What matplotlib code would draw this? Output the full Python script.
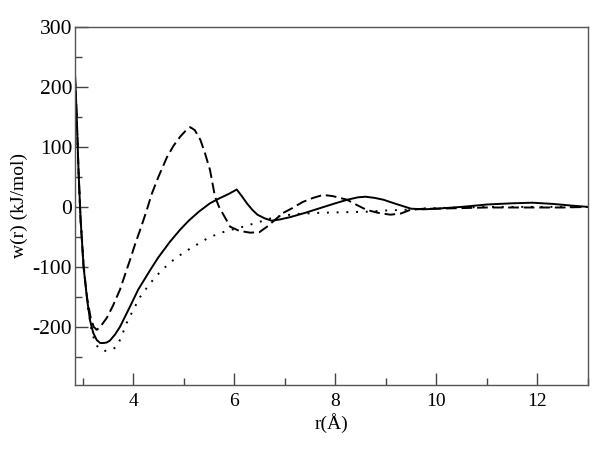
import matplotlib
matplotlib.use("Agg")
import matplotlib.pyplot as plt
from matplotlib.ticker import MultipleLocator

# Solid curve
r_solid = [2.85, 2.88, 2.92, 2.96, 3.02, 3.09, 3.15, 3.21, 3.28, 3.35, 3.42, 3.48, 3.54,
           3.64, 3.74, 3.84, 3.94, 4.10, 4.34, 4.50, 4.73, 4.93, 5.10, 5.30, 5.52, 5.70,
           5.90, 6.05, 6.15, 6.26, 6.36, 6.46, 6.60, 6.74, 6.90, 7.11, 7.40, 7.70, 8.00,
           8.24, 8.45, 8.60, 8.78, 8.95, 9.20, 9.50, 9.75, 10.0, 10.5, 11.0, 11.5, 11.9,
           12.3, 12.7, 13.0]
w_solid = [220, 160, 60, -20, -100, -155, -190, -210, -222, -227, -227, -226, -223,
           -213, -200, -183, -166, -138, -105, -84, -58, -38, -23, -8, 6, 14,
           22, 29, 18, 5, -5, -13, -19, -23, -21, -17, -10, -2, 6,
           12, 16, 17, 15, 12, 5, -3, -4, -3, 0, 4, 6, 7,
           5, 2, 0]

# Dashed curve
r_dash = [2.85, 2.88, 2.92, 2.96, 3.02, 3.09, 3.16, 3.22, 3.28, 3.35, 3.48, 3.60, 3.74,
          3.84, 3.94, 4.04, 4.14, 4.26, 4.37, 4.50, 4.67, 4.80, 4.93, 5.05, 5.13, 5.22,
          5.33, 5.42, 5.52, 5.62, 5.70, 5.78, 5.92, 6.10, 6.32, 6.50, 6.65, 6.80, 6.97,
          7.15, 7.35, 7.56, 7.76, 7.95, 8.23, 8.43, 8.62, 8.85, 9.09, 9.30, 9.48, 9.75,
          10.0, 10.5, 11.0, 11.5, 12.0, 12.5, 13.0]
w_dash = [220, 160, 60, -20, -100, -152, -185, -200, -205, -200, -185, -165, -138,
          -113, -88, -62, -38, -8, 22, 50, 83, 102, 117, 128, 133, 128,
          112, 90, 62, 17, 0, -12, -33, -40, -43, -42, -33, -22, -10,
          -2, 8, 15, 20, 18, 12, 3, -5, -10, -13, -11, -5, -3,
          -3, -2, -1, -1, -1, -1, 0]

# Dotted curve
r_dot = [2.85, 2.88, 2.92, 2.96, 3.03, 3.10, 3.18, 3.25, 3.32, 3.40, 3.50, 3.58, 3.68,
         3.78, 3.87, 4.00, 4.14, 4.27, 4.40, 4.55, 4.73, 4.90, 5.06, 5.26, 5.46, 5.70,
         5.95, 6.18, 6.50, 6.84, 7.20, 7.64, 8.10, 8.62, 9.00, 9.35, 9.70, 10.0, 10.5,
         11.0, 12.0, 13.0]
w_dot = [220, 160, 60, -20, -105, -165, -207, -227, -236, -240, -240, -238, -233,
         -214, -194, -172, -150, -135, -121, -107, -93, -82, -73, -63, -53, -44,
         -38, -33, -25, -16, -12, -10, -9, -8, -6, -5, -3, -2, -1,
         0, 0, 0]

x_ticks = [4, 6, 8, 10, 12]
y_ticks = [-200, -100, 0, 100, 200, 300]

plt.rcParams['font.family'] = ['Liberation Serif', 'DejaVu Serif']

fig = plt.figure(figsize=(6.0, 4.49), dpi=100)
ax = fig.add_axes([75/600, 64/449, 513/600, 358/449])

lw = 1.4
ax.plot(r_solid, w_solid, color='black', lw=lw, ls='-')
ax.plot(r_dash, w_dash, color='black', lw=lw, ls=(0, (5.5, 2.5)))
ax.plot(r_dot, w_dot, color='black', lw=lw, ls=(0, (1, 4)))

ax.set_xlim(2.85, 13.0)
ax.set_ylim(-297, 300)
ax.set_xticks(x_ticks)
ax.set_yticks(y_ticks)
ax.set_yticklabels([str(t) for t in y_ticks])
ax.xaxis.set_minor_locator(MultipleLocator(1))
ax.yaxis.set_minor_locator(MultipleLocator(50))

ax.tick_params(which='major', direction='in', length=9, width=1.0,
               colors='#444444', labelcolor='black')
ax.tick_params(which='minor', direction='in', length=5, width=1.0, colors='#444444')
ax.tick_params(axis='x', pad=6, labelsize=14)
ax.tick_params(axis='y', pad=2, labelsize=15.5)
for s in ax.spines.values():
    s.set_color('#555555')
    s.set_linewidth(1.0)

ax.set_xlabel('r(Å)', fontsize=14, labelpad=2)
ax.set_ylabel('w(r) (kJ/mol)', fontsize=14, labelpad=3)

fig.savefig('out.png', dpi=100)
